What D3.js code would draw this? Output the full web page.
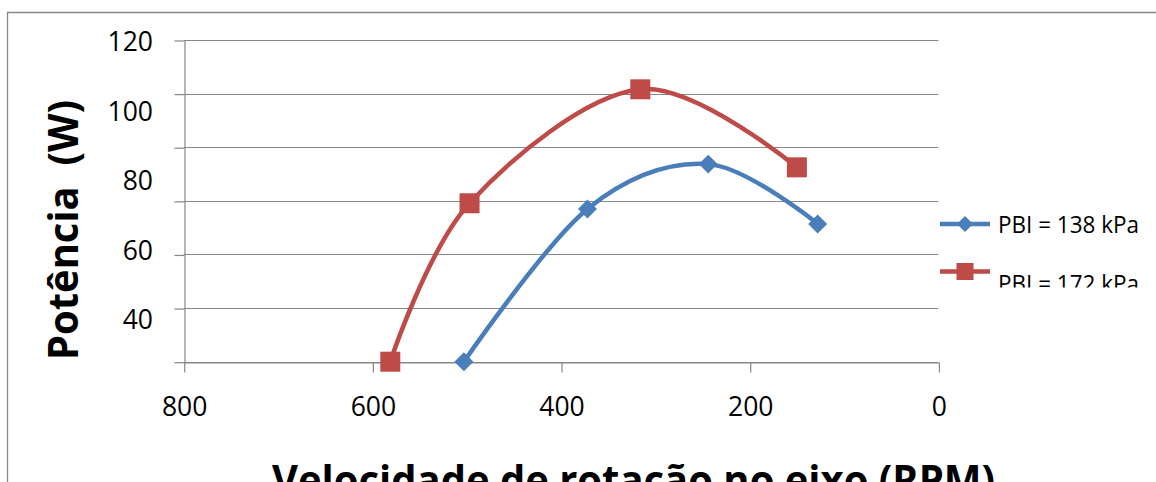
<!DOCTYPE html>
<html><head><meta charset="utf-8">
<script src="https://cdn.jsdelivr.net/npm/d3@7"></script>
<style>html,body{margin:0;padding:0;background:#fff;overflow:hidden}</style>
</head><body><svg id="c" width="1156" height="482"></svg>
<script>
// ---- data ----
const rpmTicks = [800, 600, 400, 200, 0];
const powerGrid = [0, 20, 40, 60, 80, 100, 120];
const powerLabels = ["120", "100", "80", "60", "40"];
const seriesNames = ["PBI = 138 kPa", "PBI = 172 kPa"];
const rpm138 = [503, 372, 244, 128];
const pow138 = [0, 57.0, 73.7, 51.4];
const rpm172 = [581, 497, 316, 150];
const pow172 = [0, 59.1, 101.6, 72.5];
const xTitle = "Velocidade de rotação no eixo (RPM)";
const yTitle = "Potência  (W)";
const colors = ["#4A7EBB", "#BE4B48"];

// ---- layout ----
const svg = d3.select("#c");
const L = 183.7, R = 938.4, T = 40, B = 361.7;
const gray = "#888888";
const font = "'Open Sans', 'Liberation Sans', sans-serif";

const x = d3.scaleLinear().domain([800, 0]).range([L, R]);
const y = d3.scaleLinear().domain([0, 120]).range([B, T]);
const yLab = d3.scalePoint().domain(powerLabels).range([51, 329]);

// outer border
svg.append("path").attr("d", "M7.5,482 V12.5 H1156")
  .attr("fill", "none").attr("stroke", gray).attr("stroke-width", 1.3);

// gridlines
svg.append("g").selectAll("line").data(powerGrid).join("line")
  .attr("x1", L).attr("x2", R)
  .attr("y1", d => Math.round(y(d)) + 0.5).attr("y2", d => Math.round(y(d)) + 0.5)
  .attr("stroke", gray).attr("stroke-width", 1.2);

// y axis (line + ticks)
const gy = svg.append("g").attr("transform", `translate(${Math.round(L)+0.5},0.5)`)
  .call(d3.axisLeft(y).tickValues(powerGrid).tickSize(10).tickSizeOuter(0).tickFormat(""));
gy.selectAll("path,line").attr("stroke", gray).attr("stroke-width", 1.2);

// y labels
svg.append("g").selectAll("text").data(powerLabels).join("text")
  .attr("x", 153).attr("y", d => yLab(d))
  .attr("text-anchor", "end").attr("font-family", font).attr("font-size", 26.5)
  .attr("fill", "#000").text(d => d);

// x axis
const gx = svg.append("g").attr("transform", `translate(0.5,${Math.round(B)+0.5})`)
  .call(d3.axisBottom(x).tickValues(rpmTicks).tickSize(10).tickSizeOuter(0).tickFormat(d3.format("d")));
gx.selectAll("path,line").attr("stroke", gray).attr("stroke-width", 1.2);
gx.selectAll("text").attr("y", 53).attr("dy", 0)
  .attr("font-family", font).attr("font-size", 26.5).attr("fill", "#000");

// series
const series = [
  rpm138.map((r, i) => [r, pow138[i]]),
  rpm172.map((r, i) => [r, pow172[i]])
];
const line = d3.line().x(d => x(d[0])).y(d => y(d[1])).curve(d3.curveCardinal.tension(0));
const markerSym = [d3.symbol(d3.symbolSquare, 180), d3.symbol(d3.symbolSquare, 400)];
const markerRot = [45, 0];

series.forEach((s, i) => {
  svg.append("path").attr("d", line(s)).attr("fill", "none")
    .attr("stroke", colors[i]).attr("stroke-width", 4.5).attr("stroke-linejoin", "round");
});
series.forEach((s, i) => {
  svg.append("g").selectAll("path").data(s).join("path")
    .attr("d", markerSym[i])
    .attr("transform", d => `translate(${x(d[0])},${y(d[1])}) rotate(${markerRot[i]})`)
    .attr("fill", colors[i]);
});

// legend
svg.append("defs").append("clipPath").attr("id", "legclip")
  .append("rect").attr("x", 930).attr("y", 190).attr("width", 230).attr("height", 97.5);
const leg = svg.append("g").attr("clip-path", "url(#legclip)");
const legY = [224, 271.5];
const legSym = [d3.symbol(d3.symbolSquare, 128), d3.symbol(d3.symbolSquare, 289)];
seriesNames.forEach((n, i) => {
  leg.append("line").attr("x1", 940).attr("x2", 990).attr("y1", legY[i]).attr("y2", legY[i])
    .attr("stroke", colors[i]).attr("stroke-width", 4.5);
  leg.append("path").attr("d", legSym[i])
    .attr("transform", `translate(965,${legY[i]}) rotate(${markerRot[i]})`)
    .attr("fill", colors[i]);
  leg.append("text").attr("x", 998).attr("y", legY[i] + 9 + i * 11)
    .attr("font-family", font).attr("font-size", 23).attr("fill", "#000")
    .attr("textLength", 141).attr("lengthAdjust", "spacingAndGlyphs").text(n);
});

// axis titles
svg.append("text").attr("transform", "translate(78,230) rotate(-90)")
  .attr("text-anchor", "middle").attr("font-family", font).attr("font-weight", "bold")
  .attr("font-size", 42).attr("fill", "#000").style("white-space", "pre")
  .attr("textLength", 260).attr("lengthAdjust", "spacingAndGlyphs").text(yTitle);

svg.append("text").attr("x", 272).attr("y", 495)
  .attr("font-family", font).attr("font-weight", "bold")
  .attr("font-size", 42).attr("fill", "#000")
  .attr("textLength", 723).attr("lengthAdjust", "spacingAndGlyphs").text(xTitle);
</script>
</body></html>
